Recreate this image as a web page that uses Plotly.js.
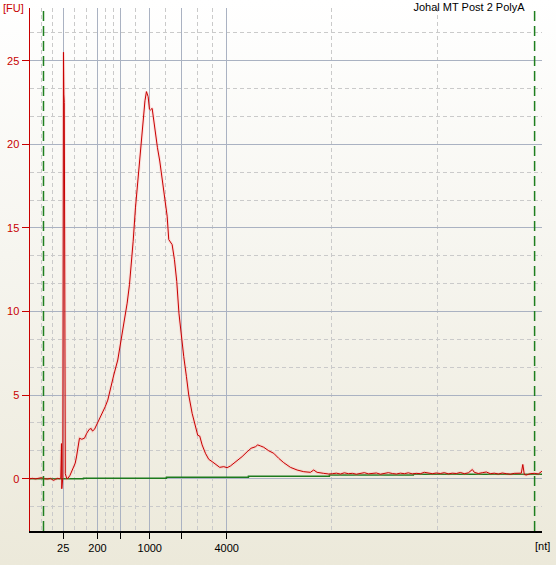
<!DOCTYPE html>
<html>
<head>
<meta charset="utf-8">
<script src="https://cdn.plot.ly/plotly-3.0.1.min.js"></script>
<style>
html, body { margin: 0; padding: 0; }
body { width: 556px; height: 565px; background: linear-gradient(to bottom, #ffffff 0%, #f6f5ef 45%, #ece9da 100%); }
#chart { width: 556px; height: 565px; }
</style>
</head>
<body>
<div id="chart"></div>
<script>
// Migration time (s) and fluorescence (FU) of the sample trace
const timeSec = [17.00,17.25,17.55,17.85,18.15,18.45,18.75,19.05,19.35,19.55,19.75,19.95,20.08,20.15,20.18,20.28,20.35,20.39,20.43,20.48,20.53,20.68,20.82,21.00,21.18,21.35,21.52,21.65,21.78,21.95,22.18,22.45,22.68,22.92,23.12,23.25,23.45,23.68,24.02,24.25,24.52,24.78,25.05,25.38,25.78,26.12,26.45,26.72,26.95,27.15,27.32,27.55,27.85,28.10,28.30,28.50,28.65,28.82,28.95,29.05,29.22,29.40,29.55,29.75,29.98,30.15,30.35,30.55,30.72,30.88,31.05,31.22,31.45,31.68,31.90,32.12,32.38,32.65,32.88,33.22,33.45,33.60,33.78,33.98,34.22,34.55,34.88,35.22,35.55,35.98,36.38,36.72,37.05,37.38,37.78,38.22,38.72,39.12,39.55,39.78,40.05,40.38,40.88,41.38,41.88,42.38,43.05,43.72,44.38,45.05,45.38,45.72,46.38,46.88,47.25,47.65,48.05,48.45,48.85,49.25,49.65,50.05,50.45,50.85,51.25,51.65,52.05,52.45,52.85,53.25,53.65,54.05,54.45,54.85,55.25,55.65,56.05,56.45,56.85,57.25,57.65,58.05,58.45,58.85,59.25,59.65,60.05,60.45,60.85,61.25,61.45,61.85,62.25,62.65,63.05,63.45,63.85,64.25,64.65,65.05,65.45,65.85,66.15,66.30,66.45,66.65,67.05,67.45,67.85,68.22];
const fluorescence = [0.00,0.02,-0.01,0.03,0.06,0.00,-0.02,0.02,-0.10,-0.04,0.02,0.00,0.05,2.10,-0.60,0.05,25.50,23.00,22.50,2.20,0.30,0.00,0.04,0.20,0.42,0.65,0.92,1.30,1.72,2.42,2.36,2.42,2.72,2.95,3.00,2.85,2.95,3.25,3.60,3.90,4.30,4.70,5.45,6.20,7.10,8.30,9.40,10.50,11.60,12.90,14.20,16.20,18.20,19.90,21.40,22.60,23.15,22.85,22.10,22.05,22.15,21.30,20.60,19.80,19.00,18.30,17.20,16.60,15.70,14.30,14.15,14.00,13.10,11.80,9.90,8.50,7.30,6.10,5.00,3.91,3.30,2.90,2.60,2.55,2.02,1.52,1.16,1.02,0.86,0.68,0.72,0.66,0.76,0.92,1.08,1.32,1.61,1.82,1.91,2.02,1.96,1.88,1.67,1.52,1.22,0.96,0.68,0.52,0.42,0.38,0.52,0.38,0.32,0.28,0.30,0.33,0.28,0.35,0.30,0.32,0.27,0.33,0.36,0.29,0.31,0.34,0.27,0.30,0.36,0.31,0.28,0.33,0.30,0.35,0.29,0.32,0.30,0.38,0.33,0.30,0.34,0.31,0.36,0.29,0.33,0.31,0.37,0.30,0.35,0.55,0.38,0.31,0.36,0.40,0.30,0.33,0.28,0.34,0.30,0.27,0.32,0.30,0.33,0.85,0.25,0.22,0.30,0.32,0.28,0.45];

// Baseline (green) steps
const baselineTime = [17.00,22.35,30.65,38.85,46.95,55.35,68.22];
const baselineFU = [0.00,0.02,0.08,0.14,0.22,0.26,0.26];

// Ladder size ticks (nt) at their migration times
const ladderTime = [20.32,23.75,26.08,28.98,32.20,36.68];
const ladderLabels = ['25','200','','1000','','4000'];
const minorGridTime = [18.12,19.22,21.45,22.62,24.55,25.35,27.55,30.55,33.72,35.22,47.18,57.72];

// Lower / upper marker windows
const markerTime = [18.35,67.48];

const titleText = 'Johal MT Post 2 PolyA';

const traces = [
  {x: baselineTime, y: baselineFU, type: 'scatter', mode: 'lines', line: {shape: 'hv', color: '#1d7a1d', width: 1.5}, hoverinfo: 'skip'},
  {x: timeSec, y: fluorescence, type: 'scatter', mode: 'lines', line: {color: 'rgba(255,150,150,0.25)', width: 3}, hoverinfo: 'skip'},
  {x: timeSec, y: fluorescence, type: 'scatter', mode: 'lines', line: {color: '#c80000', width: 1}}
];

const shapes = markerTime.map(t => ({
  type: 'line', xref: 'x', yref: 'paper', x0: t, x1: t, y0: 0, y1: 1,
  line: {color: '#1e7e1e', width: 1.5, dash: '10px,5px'}
}));

const layout = {
  width: 556, height: 565,
  margin: {l: 29.5, r: 14.3, t: 8, b: 34},
  paper_bgcolor: 'rgba(0,0,0,0)',
  plot_bgcolor: 'rgba(0,0,0,0)',
  showlegend: false,
  font: {family: 'Liberation Sans, Arial, sans-serif', size: 11, color: '#000'},
  title: {text: titleText, x: 0.966, xanchor: 'right', xref: 'paper', y: 0.988, yanchor: 'middle', yref: 'container',
          font: {family: 'Liberation Sans, Arial, sans-serif', size: 11, color: '#000'}},
  xaxis: {
    range: [17.0, 68.22], fixedrange: true,
    tickmode: 'array', tickvals: ladderTime, ticktext: ladderLabels,
    ticks: 'outside', ticklen: 6, tickcolor: '#000', tickwidth: 1,
    showline: true, linecolor: '#000', linewidth: 1.5,
    showgrid: true, gridcolor: '#aab2c2', gridwidth: 1,
    zeroline: false,
    tickfont: {color: '#000', size: 11},
    minor: {tickmode: 'array', tickvals: minorGridTime, showgrid: true, gridcolor: '#cacaca', griddash: '4px,3px', gridwidth: 1, ticklen: 0}
  },
  yaxis: {
    range: [-3.128, 28.15], fixedrange: true,
    tickmode: 'array', tickvals: [0,5,10,15,20,25],
    ticks: 'outside', ticklen: 7, tickcolor: '#c80000', tickwidth: 1,
    showline: true, linecolor: '#c80000', linewidth: 1.5,
    showgrid: true, gridcolor: '#aab2c2', gridwidth: 1,
    zeroline: false,
    tickfont: {color: '#c80000', size: 11},
    minor: {tickmode: 'linear', tick0: 0, dtick: 5/3, showgrid: true, gridcolor: '#cacaca', griddash: '4px,3px', gridwidth: 1, ticklen: 0}
  },
  shapes: shapes,
  annotations: [
    {text: '[FU]', xref: 'paper', yref: 'paper', x: -0.0576, xanchor: 'left', y: 1.0, yanchor: 'middle', showarrow: false,
     font: {color: '#c80000', size: 11}},
    {text: '[nt]', xref: 'paper', yref: 'paper', x: 0.982, xanchor: 'left', y: -0.0287, yanchor: 'middle', showarrow: false,
     font: {color: '#000', size: 11}}
  ]
};

Plotly.newPlot('chart', traces, layout, {staticPlot: true, displayModeBar: false});
</script>
</body>
</html>
